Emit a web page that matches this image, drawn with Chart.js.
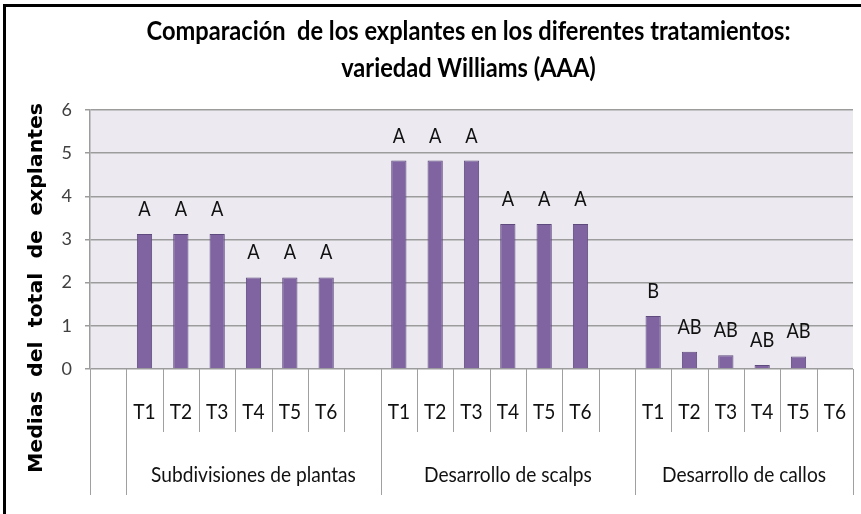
<!DOCTYPE html>
<html>
<head>
<meta charset="utf-8">
<script src="https://cdn.jsdelivr.net/npm/chart.js@4/dist/chart.umd.min.js"></script>
<style>
  body { margin: 0; background: #fff; }
  canvas { display: block; }
</style>
</head>
<body>
<canvas id="chart" width="861" height="514"></canvas>
<script>
// Chart values
const titleLines = ['Comparación  de los explantes en los diferentes tratamientos:', 'variedad Williams (AAA)'];
const yTitle = 'Medias  del  total  de  explantes';
const treatments = ['T1', 'T2', 'T3', 'T4', 'T5', 'T6'];
const groupNames = ['Subdivisiones de plantas', 'Desarrollo de scalps', 'Desarrollo de callos'];
const subdivisiones = [3.13, 3.13, 3.13, 2.12, 2.12, 2.12];
const scalps = [4.83, 4.83, 4.83, 3.36, 3.36, 3.36];
const callos = [1.23, 0.40, 0.32, 0.09, 0.29, 0];
const letrasSubdivisiones = ['A', 'A', 'A', 'A', 'A', 'A'];
const letrasScalps = ['A', 'A', 'A', 'A', 'A', 'A'];
const letrasCallos = ['B', 'AB', 'AB', 'AB', 'AB', ''];
const yTicks = [0, 1, 2, 3, 4, 5, 6];

const SX = 0.87; // the picture's text is horizontally condensed
const FONT = 'Lato, "Open Sans", sans-serif';

// build the 21 slots: a blank slot, then each group followed by a blank (not after the last)
const seriesByGroup = [subdivisiones, scalps, callos];
const lettersByGroup = [letrasSubdivisiones, letrasScalps, letrasCallos];
const labels = [''];
const values = [null];
const letters = [''];
const groups = [{ name: '', start: 0, size: 1 }];
seriesByGroup.forEach((vals, g) => {
  const start = labels.length;
  treatments.forEach((t, i) => {
    labels.push(t);
    values.push(vals[i]);
    letters.push(lettersByGroup[g][i]);
  });
  if (g < seriesByGroup.length - 1) {
    labels.push('');
    values.push(null);
    letters.push('');
  }
  groups.push({ name: groupNames[g], start: start, size: labels.length - start });
});

function squishText(ctx, text, x, y, sx) {
  ctx.save();
  ctx.translate(x, y);
  ctx.scale(sx, 1);
  ctx.fillText(text, 0, 0);
  ctx.restore();
}

const decorations = {
  id: 'decorations',
  beforeDraw(chart) {
    const ctx = chart.ctx;
    const area = chart.chartArea;
    ctx.save();
    ctx.fillStyle = '#ffffff';
    ctx.fillRect(0, 0, chart.width, chart.height);
    // frame (top and left edges only)
    ctx.fillStyle = '#000000';
    ctx.fillRect(3, 4, chart.width - 3, 3);
    ctx.fillRect(3, 4, 3, chart.height - 4);
    // plot background
    ctx.fillStyle = '#ECEAF0';
    ctx.fillRect(area.left, area.top, area.right - area.left, area.bottom - area.top);
    ctx.restore();
  },
  afterDraw(chart) {
    const ctx = chart.ctx;
    const area = chart.chartArea;
    const x = chart.scales.x;
    const n = labels.length;
    const half = (x.getPixelForValue(1) - x.getPixelForValue(0)) / 2;
    const edge = i => (i < n ? x.getPixelForValue(i) - half : x.getPixelForValue(n - 1) + half);
    const longEdges = new Set([n]);
    groups.forEach(g => longEdges.add(g.start));

    ctx.save();
    // category separators
    ctx.strokeStyle = '#a0a0a0';
    ctx.lineWidth = 1;
    for (let i = 0; i <= n; i++) {
      const px = Math.round(edge(i)) + 0.5;
      ctx.beginPath();
      ctx.moveTo(px, area.bottom);
      ctx.lineTo(px, area.bottom + (longEdges.has(i) ? 126 : 63));
      ctx.stroke();
    }

    // treatment labels and group labels
    ctx.fillStyle = '#111111';
    ctx.textAlign = 'center';
    ctx.textBaseline = 'alphabetic';
    ctx.font = '22px ' + FONT;
    labels.forEach((l, i) => {
      if (l) squishText(ctx, l, x.getPixelForValue(i), area.bottom + 50, SX);
    });
    groups.forEach(g => {
      if (!g.name) return;
      const cx = (edge(g.start) + edge(g.start + g.size)) / 2;
      squishText(ctx, g.name, cx, area.bottom + 113, SX);
    });

    // significance letters above bars
    ctx.font = '21px ' + FONT;
    ctx.fillStyle = '#111111';
    chart.getDatasetMeta(0).data.forEach((bar, i) => {
      if (letters[i]) squishText(ctx, letters[i], bar.x, bar.y - 18, SX);
    });

    // title
    ctx.fillStyle = '#000000';
    ctx.font = 'bold 27px ' + FONT;
    const tx = (area.left + area.right) / 2 - 3;
    squishText(ctx, titleLines[0], tx, 40, 0.875);
    squishText(ctx, titleLines[1], tx, 77, 0.875);

    // y axis title, rotated
    ctx.save();
    ctx.translate(42, 288);
    ctx.rotate(-Math.PI / 2);
    ctx.font = 'bold 20px "DejaVu Sans", sans-serif';
    const w = ctx.measureText(yTitle).width;
    ctx.scale(370 / w, 1);
    ctx.fillText(yTitle, 0, 0);
    ctx.restore();
    ctx.restore();
  }
};

new Chart(document.getElementById('chart'), {
  type: 'bar',
  data: {
    labels: labels,
    datasets: [{
      data: values,
      backgroundColor: '#8064A2',
      borderColor: '#5E4A7D',
      borderWidth: 1,
      barPercentage: 0.42,
      categoryPercentage: 1
    }]
  },
  options: {
    responsive: false,
    animation: false,
    devicePixelRatio: 1,
    layout: { padding: { top: 110, right: 8, left: 0, bottom: 0 } },
    plugins: {
      legend: { display: false },
      title: { display: false },
      tooltip: { enabled: false }
    },
    scales: {
      x: {
        type: 'category',
        offset: true,
        grid: { display: false },
        border: { display: false },
        ticks: { display: false },
        afterFit: scale => { scale.height = 145; }
      },
      y: {
        min: yTicks[0],
        max: yTicks[yTicks.length - 1],
        afterBuildTicks: scale => { scale.ticks = yTicks.map(v => ({ value: v })); },
        ticks: {
          padding: 13,
          color: '#404040',
          font: { family: FONT, size: 18 }
        },
        grid: {
          color: '#9c9c9c',
          lineWidth: 1.5,
          tickLength: 5,
          tickColor: '#9c9c9c'
        },
        border: { color: '#9c9c9c', width: 1.5 },
        afterFit: scale => { scale.width = 90; }
      }
    }
  },
  plugins: [decorations]
});
</script>
</body>
</html>
